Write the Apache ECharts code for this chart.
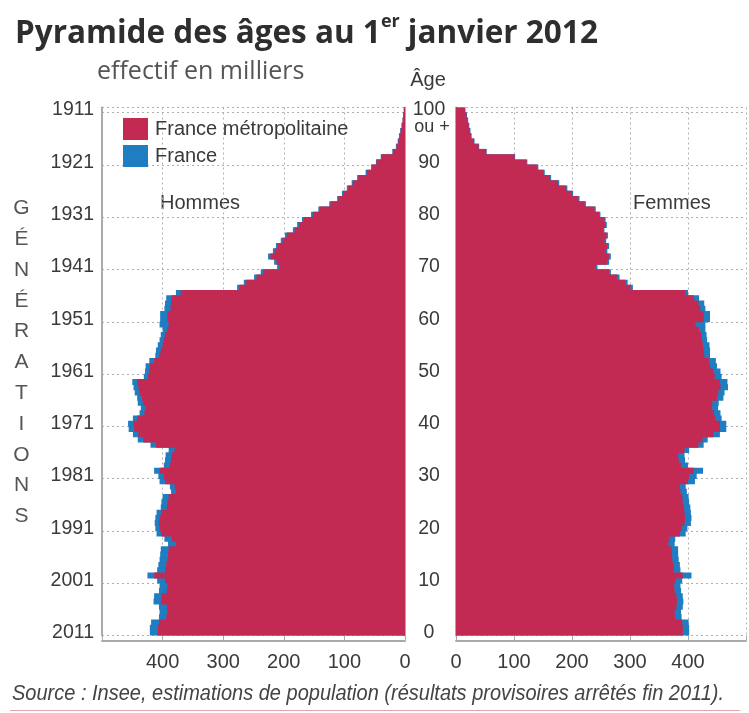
<!DOCTYPE html>
<html>
<head>
<meta charset="utf-8">
<script src="https://cdn.jsdelivr.net/npm/echarts@6/dist/echarts.min.js"></script>
<style>
  html, body { margin: 0; padding: 0; background: #fff; }
  #chart { width: 749px; height: 713px; }
</style>
</head>
<body>
<div id="chart"></div>
<script>
// ages 0..100 (100 = "100 ou +")
const ages = Array.from({ length: 101 }, (_, i) => String(i));
const ageTicks = ['0', '10', '20', '30', '40', '50', '60', '70', '80', '90', '100'];
const generations = ['2011', '2001', '1991', '1981', '1971', '1961', '1951', '1941', '1931', '1921', '1911'];
const valueTicks = [0, 100, 200, 300, 400];

// effectif en milliers, index = âge
const hommesMetro = [
  408, 408, 406, 394, 392, 393, 403, 402, 393, 392,
  396, 414, 396, 394, 392, 391, 390, 378, 385, 402,
  405, 406, 405, 402, 393, 392, 390, 378, 380, 396,
  398, 405, 388, 386, 385, 380, 411, 432, 440, 447,
  448, 442, 430, 428, 432, 434, 438, 440, 442, 424,
  422, 421, 414, 405, 403, 400, 398, 396, 392, 390,
  392, 392, 387, 386, 385, 370, 273, 262, 245, 234,
  207, 212, 222, 215, 210, 202, 195, 182, 175, 167,
  152, 141, 123, 110, 102, 94, 86, 77, 63, 55,
  47, 39, 20, 14, 11, 9, 7, 5, 4, 3,
  2
];
const hommesFrance = [
  421, 421, 419, 406, 405, 406, 415, 414, 406, 405,
  409, 425, 409, 407, 405, 404, 403, 391, 397, 410,
  412, 413, 412, 410, 403, 402, 400, 386, 388, 405,
  407, 414, 398, 396, 395, 390, 420, 441, 449, 456,
  457, 449, 438, 436, 441, 442, 446, 448, 450, 431,
  429, 428, 422, 412, 411, 408, 405, 403, 400, 405,
  404, 404, 397, 396, 394, 378, 277, 266, 249, 238,
  211, 216, 226, 218, 213, 205, 198, 185, 178, 170,
  155, 143, 125, 112, 104, 96, 88, 79, 65, 56,
  48, 40, 21, 15, 12, 10, 8, 6, 4, 3,
  2
];
const femmesMetro = [
  391, 391, 390, 378, 377, 380, 381, 380, 377, 376,
  378, 391, 376, 375, 373, 372, 372, 366, 368, 386,
  389, 394, 395, 394, 393, 391, 390, 387, 386, 400,
  402, 410, 388, 384, 383, 394, 418, 425, 444, 455,
  455, 447, 445, 441, 442, 450, 452, 456, 455, 446,
  444, 438, 436, 428, 427, 426, 424, 423, 419, 413,
  427, 427, 421, 418, 410, 396, 301, 292, 278, 264,
  241, 261, 264, 258, 261, 256, 260, 254, 258, 256,
  247, 239, 222, 211, 200, 190, 176, 162, 151, 140,
  122, 101, 52, 39, 31, 26, 24, 22, 20, 18,
  16
];
const femmesFrance = [
  402, 402, 401, 389, 388, 391, 392, 391, 388, 387,
  390, 406, 387, 386, 384, 383, 383, 377, 378, 396,
  399, 405, 406, 405, 404, 402, 401, 398, 396, 412,
  415, 426, 400, 395, 394, 402, 427, 434, 455, 466,
  466, 458, 456, 452, 453, 461, 463, 469, 468, 458,
  456, 450, 448, 438, 438, 437, 433, 432, 430, 430,
  438, 438, 430, 428, 419, 400, 305, 296, 282, 267,
  244, 264, 267, 261, 264, 259, 262, 256, 260, 258,
  249, 241, 224, 213, 202, 192, 178, 164, 153, 142,
  123, 102, 53, 40, 32, 27, 25, 23, 21, 19,
  16
];

const RED = '#C22A53';
const BLUE = '#1F7EC2';
const narrow = "'Liberation Sans', Arial, sans-serif";
const textColor = '#3a3a3a';
const gridLine = { type: [2, 3], color: '#b0b0b0', width: 1 };
const axisGrey = { color: '#aaaaaa', width: 2 };

const chart = echarts.init(document.getElementById('chart'));

function xAxisFor(gridIndex, inverse) {
  return {
    gridIndex: gridIndex,
    type: 'value',
    inverse: inverse,
    min: 0,
    max: 500,
    interval: 100,
    offset: 5,
    axisLine: { show: true, lineStyle: axisGrey },
    axisTick: { show: true, inside: true, length: 5, lineStyle: { color: '#aaa' } },
    axisLabel: {
      margin: 12,
      fontSize: 20,
      fontFamily: narrow,
      color: textColor,
      formatter: v => valueTicks.indexOf(v) >= 0 ? String(v) : ''
    },
    splitLine: { show: true, lineStyle: gridLine }
  };
}

function barSeries(name, xi, yi, data, color) {
  return {
    name: name,
    type: 'bar',
    xAxisIndex: xi,
    yAxisIndex: yi,
    data: data,
    barGap: '-100%',
    barWidth: 6,
    itemStyle: { color: color },
    emphasis: { disabled: true }
  };
}

const option = {
  animation: false,
  title: {
    left: 10,
    top: 8,
    text: '{a|Pyramide des âges au 1}{s|er}{a| janvier 2012}',
    textStyle: {
      rich: {
        a: { fontFamily: 'Open Sans', fontWeight: 'bold', fontSize: 31.5, color: '#2e2e2e', lineHeight: 42 },
        s: { fontFamily: 'Open Sans', fontWeight: 'bold', fontSize: 18, color: '#2e2e2e', lineHeight: 24, verticalAlign: 'top' }
      }
    }
  },
  legend: {
    left: 118,
    top: 113,
    orient: 'vertical',
    itemWidth: 25,
    itemHeight: 22,
    itemGap: 5,
    icon: 'rect',
    data: ['France métropolitaine', 'France'],
    textStyle: { fontFamily: narrow, fontSize: 20, color: textColor, padding: [0, 0, 0, 2] }
  },
  grid: [
    { left: 102, top: 107.5, width: 303, height: 528 },
    { left: 456, top: 107.5, width: 301, height: 528 }
  ],
  xAxis: [xAxisFor(0, true), xAxisFor(1, false)],
  yAxis: [
    {
      gridIndex: 0,
      type: 'category',
      data: ages,
      position: 'left',
      axisLine: { show: true, onZero: false, lineStyle: axisGrey },
      axisTick: { show: false },
      axisLabel: {
        interval: i => i % 10 === 0,
        margin: 8,
        fontSize: 19.5,
        fontFamily: narrow,
        color: textColor,
        formatter: v => generations[ageTicks.indexOf(v)] || ''
      },
      splitLine: { show: true, interval: i => i % 10 === 0, lineStyle: gridLine }
    },
    {
      gridIndex: 0,
      type: 'category',
      data: ages,
      position: 'right',
      axisLine: { show: true, onZero: false, lineStyle: axisGrey },
      axisTick: { show: false },
      axisLabel: { show: false }
    },
    {
      gridIndex: 1,
      type: 'category',
      data: ages,
      position: 'left',
      axisLine: { show: true, onZero: false, lineStyle: axisGrey },
      axisTick: { show: false },
      axisLabel: {
        interval: i => i % 10 === 0,
        margin: 27,
        align: 'center',
        fontSize: 19.5,
        fontFamily: narrow,
        color: textColor,
        formatter: v => ageTicks.indexOf(v) >= 0 ? v : ''
      },
      splitLine: { show: true, interval: i => i % 10 === 0, lineStyle: gridLine }
    }
  ],
  series: [
    barSeries('France', 0, 0, hommesFrance, BLUE),
    barSeries('France métropolitaine', 0, 0, hommesMetro, RED),
    barSeries('France', 1, 2, femmesFrance, BLUE),
    barSeries('France métropolitaine', 1, 2, femmesMetro, RED)
  ],
  graphic: [
    { type: 'text', left: 97, top: 59, style: { text: 'effectif en milliers', fontFamily: 'Open Sans', fontSize: 25, fill: '#555' } },
    { type: 'text', x: 428, y: 80, style: { text: 'Âge', fontFamily: narrow, fontSize: 20, fill: textColor, textAlign: 'center', textVerticalAlign: 'middle' } },
    { type: 'text', x: 432, y: 127, style: { text: 'ou +', fontFamily: narrow, fontSize: 18, fill: textColor, textAlign: 'center', textVerticalAlign: 'middle' } },
    { type: 'text', x: 160, y: 203.5, style: { text: 'Hommes', fontFamily: narrow, fontSize: 20, fill: textColor, textVerticalAlign: 'middle' } },
    { type: 'text', x: 633, y: 203, style: { text: 'Femmes', fontFamily: narrow, fontSize: 20, fill: textColor, textVerticalAlign: 'middle' } },
    {
      type: 'text', x: 21.5, y: 193,
      style: {
        text: 'GÉNÉRATIONS'.split('').join('\n'),
        fontFamily: narrow, fontSize: 21, lineHeight: 30.8, fill: '#555',
        textAlign: 'center', textVerticalAlign: 'top'
      }
    },
    {
      type: 'text', x: 12, y: 694, scaleX: 0.93,
      style: {
        text: 'Source : Insee, estimations de population (résultats provisoires arrêtés fin 2011).',
        fontFamily: narrow, fontStyle: 'italic', fontSize: 21.5, fill: '#444', textVerticalAlign: 'middle'
      }
    },
    { type: 'line', shape: { x1: 10, y1: 710.5, x2: 740, y2: 710.5 }, style: { stroke: '#e6a3b4', lineWidth: 1 } }
  ]
};

chart.setOption(option);
</script>
</body>
</html>
